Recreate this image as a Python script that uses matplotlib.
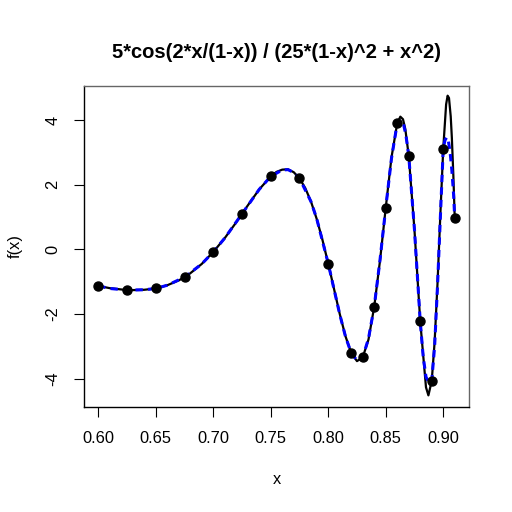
import numpy as np
import matplotlib
matplotlib.use('Agg')
import matplotlib.pyplot as plt

plt.rcParams['font.family'] = ['Liberation Sans', 'DejaVu Sans']

title = '5*cos(2*x/(1-x)) / (25*(1-x)^2 + x^2)'

# sample points (black dots)
pts_x = [0.60, 0.625, 0.65, 0.675, 0.70, 0.725, 0.75, 0.775, 0.80,
         0.82, 0.83, 0.84, 0.85, 0.86, 0.87, 0.88, 0.89, 0.90, 0.91]
pts_y = [-1.13, -1.26, -1.21, -0.86, -0.08, 1.10, 2.26, 2.20, -0.44,
         -3.21, -3.34, -1.77, 1.29, 3.91, 2.90, -2.23, -4.07, 3.12, 0.96]

# true curve (black line)
curve_x = [0.60, 0.61, 0.62, 0.625, 0.63, 0.64, 0.65, 0.66, 0.67, 0.675,
           0.68, 0.69, 0.70, 0.71, 0.72, 0.725, 0.73, 0.74, 0.75, 0.755,
           0.76, 0.765, 0.77, 0.775, 0.78, 0.785, 0.79, 0.795, 0.80, 0.805,
           0.81, 0.815, 0.82, 0.825, 0.83, 0.835, 0.84, 0.845, 0.85, 0.855,
           0.86, 0.8627, 0.865, 0.867, 0.87, 0.875, 0.88, 0.885, 0.8871, 0.89,
           0.8925, 0.895, 0.8975, 0.90, 0.9025, 0.9038, 0.905, 0.9065, 0.9075,
           0.9088, 0.91]
curve_y = [-1.13, -1.20, -1.24, -1.26, -1.26, -1.25, -1.21, -1.11, -0.96, -0.86,
           -0.74, -0.45, -0.08, 0.35, 0.84, 1.10, 1.36, 1.86, 2.26, 2.40,
           2.47, 2.48, 2.39, 2.20, 1.90, 1.48, 0.94, 0.29, -0.44, -1.22,
           -2.00, -2.69, -3.21, -3.46, -3.34, -2.79, -1.77, -0.35, 1.29, 2.85,
           3.91, 4.11, 4.03, 3.73, 2.90, 0.59, -2.23, -4.27, -4.52, -4.07,
           -2.87, -1.07, 1.09, 3.12, 4.49, 4.76, 4.69, 4.12, 3.45,
           2.28, 0.96]

# interpolating spline (blue dashed)
spl_x = [0.60, 0.61, 0.625, 0.64, 0.65, 0.66, 0.675, 0.69, 0.70, 0.71,
         0.725, 0.74, 0.75, 0.76, 0.765, 0.77, 0.775, 0.785, 0.79, 0.80,
         0.805, 0.81, 0.815, 0.82, 0.825, 0.83, 0.835, 0.84, 0.845, 0.85,
         0.855, 0.86, 0.8635, 0.865, 0.8675, 0.87, 0.875, 0.88, 0.8825, 0.885,
         0.888, 0.89, 0.8925, 0.895, 0.8975, 0.90, 0.9015, 0.903, 0.9045, 0.906,
         0.9075, 0.909, 0.91]
spl_y = [-1.13, -1.21, -1.26, -1.25, -1.21, -1.11, -0.86, -0.45, -0.08, 0.35,
         1.10, 1.86, 2.26, 2.46, 2.47, 2.38, 2.20, 1.48, 0.95, -0.44,
         -1.23, -2.01, -2.70, -3.21, -3.44, -3.34, -2.76, -1.77, -0.33, 1.29,
         2.82, 3.91, 4.00, 3.95, 3.55, 2.90, 0.60, -2.23, -3.30, -3.95,
         -4.15, -4.07, -3.00, -1.15, 1.00, 3.12, 3.38, 3.47, 3.35, 3.00,
         2.45, 1.70, 0.96]

fig = plt.figure(figsize=(5.12, 5.12), dpi=100)
ax = fig.add_axes([84 / 512, 105 / 512, 385 / 512, 321 / 512])

ax.plot(curve_x, curve_y, color='black', lw=1.6, solid_joinstyle='round')
ax.plot(spl_x, spl_y, color='blue', lw=2.2, dashes=(2.4, 1.7))
ax.plot(pts_x, pts_y, 'o', color='black', ms=6.5)

ax.set_xlim(0.5876, 0.9224)
ax.set_ylim(-4.88, 5.06)

xt = [0.60, 0.65, 0.70, 0.75, 0.80, 0.85, 0.90]
ax.set_xticks(xt)
ax.set_xticklabels(['%.2f' % v for v in xt])
yt = [-4, -2, 0, 2, 4]
ax.set_yticks(yt)
ax.set_yticklabels([str(v) for v in yt], rotation=90, va='center')
ax.tick_params(direction='out', length=7, width=0.8, labelsize=11.8, pad=10)

for s in ['left', 'bottom']:
    ax.spines[s].set_color('black')
for s in ['top', 'right']:
    ax.spines[s].set_color('#666666')
for s in ax.spines.values():
    s.set_linewidth(1.0)

fig.text(276.5 / 512, 1 - 52 / 512, title, ha='center', va='center',
         fontsize=14.5, fontweight='bold')
fig.text(276.5 / 512, 1 - 484 / 512, 'x', ha='center', va='baseline', fontsize=11.8)
fig.text(15 / 512, 1 - 246.5 / 512, 'f(x)', ha='center', va='center',
         rotation=90, fontsize=11.8)

fig.savefig('out.png', dpi=100)
